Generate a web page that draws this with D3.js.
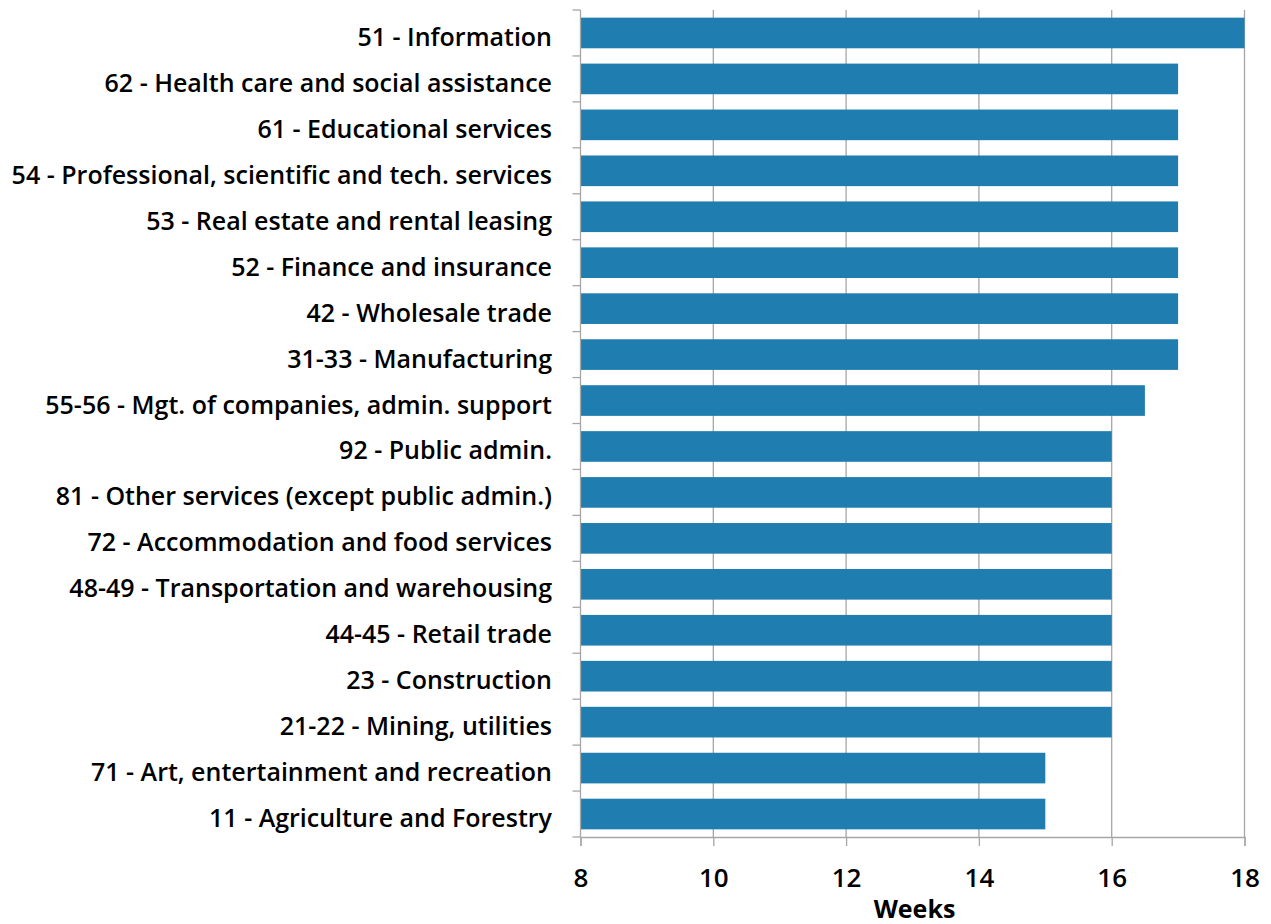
<!DOCTYPE html>
<html><head><meta charset="utf-8">
<script src="https://cdn.jsdelivr.net/npm/d3@7"></script>
<style>body{margin:0;background:#fff}svg{display:block}text{font-family:"Open Sans",sans-serif;font-weight:600;fill:#000}</style>
</head><body>
<svg id="c" width="1271" height="924"></svg>
<script>
const categories = [
 "51 - Information",
 "62 - Health care and social assistance",
 "61 - Educational services",
 "54 - Professional, scientific and tech. services",
 "53 - Real estate and rental leasing",
 "52 - Finance and insurance",
 "42 - Wholesale trade",
 "31-33 - Manufacturing",
 "55-56 - Mgt. of companies, admin. support",
 "92 - Public admin.",
 "81 - Other services (except public admin.)",
 "72 - Accommodation and food services",
 "48-49 - Transportation and warehousing",
 "44-45 - Retail trade",
 "23 - Construction",
 "21-22 - Mining, utilities",
 "71 - Art, entertainment and recreation",
 "11 - Agriculture and Forestry"
];
const weeks = [18,17,17,17,17,17,17,17,16.5,16,16,16,16,16,16,16,15,15];
const xTicks = [8,10,12,14,16,18];
const xTitle = "Weeks";

const svg = d3.select("#c");
const L = 580.5, R = 1244.5, T = 10, B = 837;
const x = d3.scaleLinear().domain([8,18]).range([L,R]);
const y = d3.scaleBand().domain(categories).range([T,B]).paddingInner(0.333).paddingOuter(0.1665);
const grid = "#a6a6a6";

svg.append("g").selectAll("line").data(xTicks.slice(1)).join("line")
  .attr("x1",d=>x(d)).attr("x2",d=>x(d)).attr("y1",T).attr("y2",B)
  .attr("stroke",grid).attr("stroke-width",1.3);

svg.append("g").selectAll("rect").data(categories).join("rect")
  .attr("x",L).attr("y",d=>y(d))
  .attr("width",(d,i)=>x(weeks[i])-L).attr("height",y.bandwidth())
  .attr("fill","#1f7db0");

const bounds = d3.range(categories.length+1).map(i=>T + i*y.step());
svg.append("line").attr("x1",L).attr("x2",L).attr("y1",T).attr("y2",B).attr("stroke",grid).attr("stroke-width",1.3);
svg.append("g").selectAll("line").data(bounds).join("line")
  .attr("x1",L-8).attr("x2",L).attr("y1",d=>d).attr("y2",d=>d)
  .attr("stroke",grid).attr("stroke-width",1.3);

const xa = svg.append("g").attr("transform",`translate(0,${B})`)
  .call(d3.axisBottom(x).tickValues(xTicks).tickSize(9).tickPadding(14).tickFormat(d3.format("d")));
xa.select(".domain").attr("stroke",grid).attr("stroke-width",1.3);
xa.selectAll(".tick line").attr("stroke",grid).attr("stroke-width",1.3);
xa.selectAll(".tick text").attr("y",null).attr("dy",null).style("font-size","26px")
  .style("font-family","'Open Sans',sans-serif").style("font-weight",600).attr("fill","#000")
  .attr("transform","translate(0,50)");

svg.append("g").selectAll("text").data(categories).join("text")
  .attr("x",552).attr("y",d=>y(d)+y.bandwidth()/2+13)
  .attr("text-anchor","end").style("font-size","25px").text(d=>d);

svg.append("text").attr("x",(L+R)/2 + 2).attr("y",918).attr("text-anchor","middle")
  .style("font-size","25px").style("font-weight",700).text(xTitle);
</script>
</body></html>
